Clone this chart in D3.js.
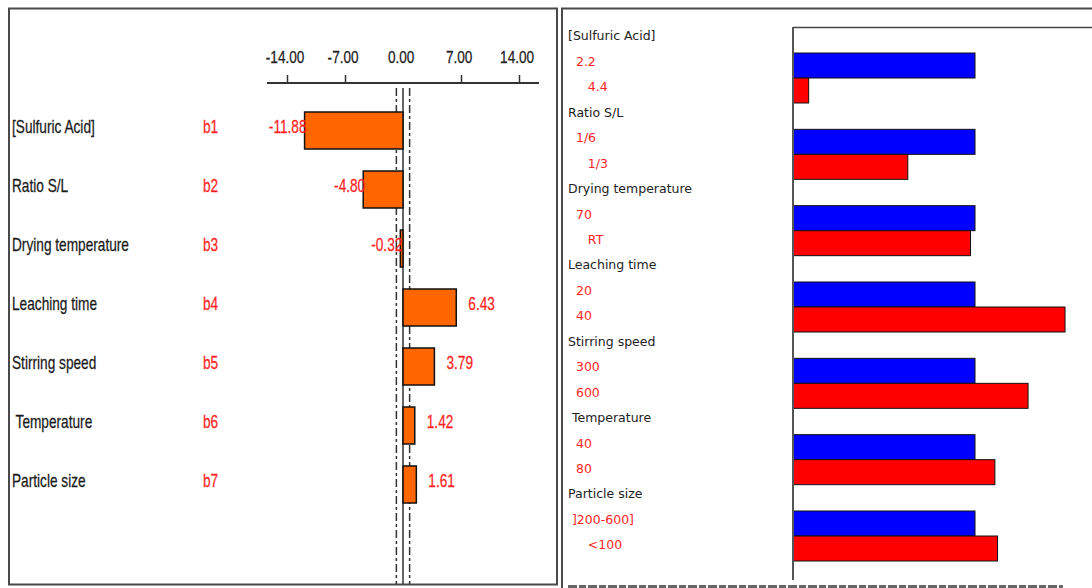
<!DOCTYPE html>
<html><head><meta charset="utf-8">
<script src="https://cdn.jsdelivr.net/npm/d3@7"></script>
<style>
html,body{margin:0;padding:0;background:#fff;}
svg{display:block;}
text{white-space:pre;}
</style></head><body>
<svg id="chart" width="1092" height="588"></svg>
<script>
// Factors studied and their coded coefficients
const factors = ["[Sulfuric Acid]", "Ratio S/L", "Drying temperature", "Leaching time", "Stirring speed", " Temperature", "Particle size"];
const codes = ["b1", "b2", "b3", "b4", "b5", "b6", "b7"];
const coefficients = [-11.88, -4.80, -0.32, 6.43, 3.79, 1.42, 1.61];
const coefTicks = [-14, -7, 0, 7, 14];
const confidenceHalfWidth = 0.8;

// Factor levels and mean response at each level
const factorHeaders = ["[Sulfuric Acid]", "Ratio S/L", "Drying temperature", "Leaching time", "Stirring speed", " Temperature", "Particle size"];
const lowLevels = ["  2.2", "  1/6", "  70", "  20", "  300", "  40", " ]200-600]"];
const highLevels = ["     4.4", "     1/3", "     RT", "  40", "  600", "  80", "     <100"];
const lowResponse = [26, 26, 26, 26, 26, 26, 26];
const highResponse = [2.24, 16.40, 25.36, 38.86, 33.58, 28.84, 29.22];

const svg = d3.select("#chart");
const narrow = "'Liberation Sans', Arial, sans-serif";
const squeeze = 0.76;
const sans = "'DejaVu Sans', sans-serif";
const red = "#ff1f1f";

// ---------- Left panel: coefficient plot ----------
const L = svg.append("g");
L.append("rect").attr("x", 9).attr("y", 8.5).attr("width", 548).attr("height", 576)
  .attr("fill", "none").attr("stroke", "#4a4a4a").attr("stroke-width", 2);

const x = d3.scaleLinear().domain([-14, 14]).range([287, 519]);
const row = d3.scalePoint().domain(codes).range([130.5, 484.5]);
const barH = 37;

const axisY = 83;
L.append("line").attr("x1", 267).attr("x2", 539).attr("y1", axisY).attr("y2", axisY)
  .attr("stroke", "#333").attr("stroke-width", 2);
const ax = L.append("g").attr("transform", `translate(0,${axisY})`)
  .call(d3.axisTop(x).tickValues(coefTicks).tickSize(8).tickPadding(12).tickFormat(d3.format(".2f")));
ax.select(".domain").remove();
ax.selectAll(".tick line").attr("stroke", "#333").attr("stroke-width", 1.5)
  .filter(d => d === 0).remove();
ax.selectAll(".tick text").attr("font-family", narrow).attr("font-size", 17)
  .attr("fill", "#222").attr("stroke", "#222").attr("stroke-width", 0.25)
  .attr("dx", -3).attr("transform", "scale(0.8,1)")
  .text(d => d3.format(".2f")(d).replace("−", "-"));

// zero line and confidence limits
const yTop = 88, yBot = 584;
L.append("line").attr("x1", x(0)).attr("x2", x(0)).attr("y1", yTop).attr("y2", yBot)
  .attr("stroke", "#333").attr("stroke-width", 1.5);
[-confidenceHalfWidth, confidenceHalfWidth].forEach(v => {
  L.append("line").attr("x1", x(v)).attr("x2", x(v)).attr("y1", yTop).attr("y2", yBot)
    .attr("stroke", "#333").attr("stroke-width", 1.5).attr("stroke-dasharray", "8,3,3,3");
});

const coefData = codes.map((c, i) => ({code: c, name: factors[i], value: coefficients[i]}));

L.selectAll("rect.bar").data(coefData).join("rect").attr("class", "bar")
  .attr("x", d => Math.min(x(0), x(d.value)))
  .attr("width", d => Math.abs(x(d.value) - x(0)))
  .attr("y", d => row(d.code) - barH / 2)
  .attr("height", barH)
  .attr("fill", "#ff6600").attr("stroke", "#111").attr("stroke-width", 1.5);

function squeezed(sel, xf, yf) {
  return sel.attr("transform", d => `translate(${xf(d)},${yf(d)}) scale(${squeeze},1)`)
    .attr("dy", "0.35em").attr("font-family", narrow).attr("font-size", 18)
    .attr("stroke-width", 0.25);
}

squeezed(L.selectAll("text.factor").data(coefData).join("text").attr("class", "factor"),
  () => 12, d => row(d.code) - 4)
  .attr("fill", "#1a1a1a").attr("stroke", "#1a1a1a").text(d => d.name);

squeezed(L.selectAll("text.code").data(coefData).join("text").attr("class", "code"),
  () => 203, d => row(d.code) - 4)
  .attr("fill", red).attr("stroke", red).text(d => d.code);

squeezed(L.selectAll("text.val").data(coefData).join("text").attr("class", "val"),
  d => d.value < 0 ? x(d.value) + 2 : x(d.value) + 12, d => row(d.code) - 4)
  .attr("text-anchor", d => d.value < 0 ? "end" : "start")
  .attr("fill", red).attr("stroke", red).text(d => d.value.toFixed(2));

// ---------- Right panel: response at each factor level ----------
const R = svg.append("g");
R.append("rect").attr("x", 562).attr("y", 8.5).attr("width", 560).attr("height", 600)
  .attr("fill", "none").attr("stroke", "#4a4a4a").attr("stroke-width", 2);

const xr = d3.scaleLinear().domain([0, 40]).range([793, 1073]);
const grp = d3.scalePoint().domain(d3.range(factorHeaders.length)).range([36, 494]);
const lvlH = 25;

R.append("line").attr("x1", xr(0)).attr("x2", 1092).attr("y1", 27.5).attr("y2", 27.5)
  .attr("stroke", "#444").attr("stroke-width", 1.5);

const groups = factorHeaders.map((h, i) => ({i, header: h, low: lowLevels[i], high: highLevels[i],
  lowV: lowResponse[i], highV: highResponse[i]}));

R.selectAll("text.hdr").data(groups).join("text").attr("class", "hdr")
  .attr("x", 568).attr("y", d => grp(d.i)).attr("dy", "0.35em")
  .attr("font-family", sans).attr("font-size", 12.5).attr("fill", "#222")
  .text(d => d.header);
R.selectAll("text.lo").data(groups).join("text").attr("class", "lo")
  .attr("x", 568).attr("y", d => grp(d.i) + 25.5).attr("dy", "0.35em")
  .attr("font-family", sans).attr("font-size", 12.5).attr("fill", red)
  .text(d => d.low);
R.selectAll("text.hi").data(groups).join("text").attr("class", "hi")
  .attr("x", 568).attr("y", d => grp(d.i) + 51).attr("dy", "0.35em")
  .attr("font-family", sans).attr("font-size", 12.5).attr("fill", red)
  .text(d => d.high);

R.selectAll("rect.lowbar").data(groups).join("rect").attr("class", "lowbar")
  .attr("x", xr(0)).attr("width", d => xr(d.lowV) - xr(0))
  .attr("y", d => grp(d.i) + 17).attr("height", lvlH)
  .attr("fill", "#0000ff").attr("stroke", "#111").attr("stroke-width", 1);
R.selectAll("rect.highbar").data(groups).join("rect").attr("class", "highbar")
  .attr("x", xr(0)).attr("width", d => xr(d.highV) - xr(0))
  .attr("y", d => grp(d.i) + 17 + lvlH).attr("height", lvlH)
  .attr("fill", "#ff0000").attr("stroke", "#111").attr("stroke-width", 1);

R.append("line").attr("x1", xr(0)).attr("x2", xr(0)).attr("y1", 27).attr("y2", 580)
  .attr("stroke", "#555").attr("stroke-width", 2);

// ruled strip along the lower edge of the right panel
R.append("line").attr("x1", 568).attr("x2", 1063).attr("y1", 586.5).attr("y2", 586.5)
  .attr("stroke", "#666").attr("stroke-width", 3).attr("stroke-dasharray", "9,2,7,2");
</script>
</body></html>
